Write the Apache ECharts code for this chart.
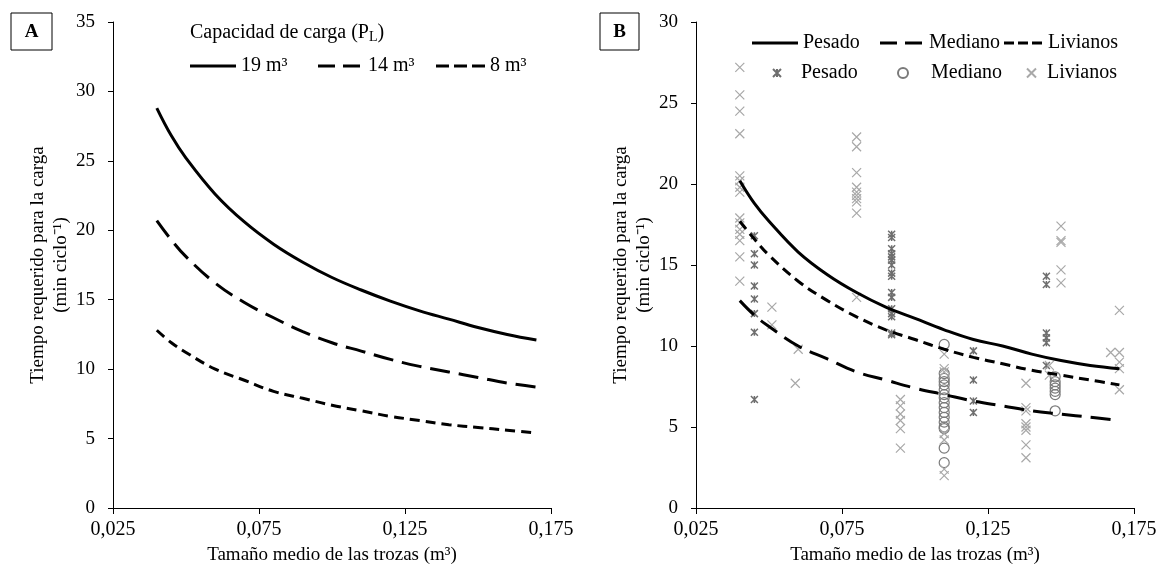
<!DOCTYPE html>
<html>
<head>
<meta charset="utf-8">
<script src="https://cdn.jsdelivr.net/npm/echarts@6/dist/echarts.min.js"></script>
<style>
  html, body { margin: 0; padding: 0; background: #fff; }
  #chart { width: 1169px; height: 573px; }
</style>
</head>
<body>
<div id="chart"></div>
<script>
// Log size (m³) at which each fitted curve is evaluated
const logSize = [0.040, 0.045, 0.050, 0.060, 0.070, 0.080, 0.090, 0.100, 0.110, 0.120, 0.130, 0.140, 0.150, 0.160, 0.170];

// Panel A: loading time by load capacity (min ciclo⁻¹)
const cap19 = [28.8, 26.8, 25.2, 22.6, 20.6, 19.0, 17.7, 16.6, 15.7, 14.9, 14.2, 13.6, 13.0, 12.5, 12.1];
const cap14 = [20.7, 19.3, 18.1, 16.2, 14.8, 13.7, 12.7, 11.9, 11.3, 10.7, 10.2, 9.8, 9.4, 9.0, 8.7];
const cap8  = [12.8, 11.9, 11.2, 10.0, 9.2, 8.4, 7.9, 7.4, 7.0, 6.6, 6.3, 6.0, 5.8, 5.6, 5.4];

// Panel B: fitted curves by truck type
const pesadoFit   = [20.2, 18.8, 17.7, 15.8, 14.4, 13.3, 12.4, 11.7, 11.0, 10.4, 10.0, 9.5, 9.1, 8.8, 8.6];
const livianosFit = [17.7, 16.6, 15.6, 14.0, 12.8, 11.8, 11.0, 10.4, 9.8, 9.3, 8.9, 8.5, 8.2, 7.9, 7.6];
const medianoFit  = [12.8, 11.9, 11.2, 10.0, 9.2, 8.4, 7.9, 7.4, 7.0, 6.6, 6.3, 6.0, 5.8, 5.6, 5.4];

// Panel B: observed cycles [log size, minutes]
const pesadoObs = [
  [0.045, 16.8], [0.045, 15.7], [0.045, 15.0], [0.045, 13.7], [0.045, 12.9], [0.045, 12.0], [0.045, 10.85], [0.045, 6.7],
  [0.092, 16.9], [0.092, 16.7], [0.092, 16.0], [0.092, 15.7], [0.092, 15.5], [0.092, 15.3], [0.092, 15.0], [0.092, 14.5],
  [0.092, 14.3], [0.092, 13.3], [0.092, 13.0], [0.092, 12.3], [0.092, 12.0], [0.092, 11.8], [0.092, 10.8], [0.092, 10.7],
  [0.120, 9.7], [0.120, 7.9], [0.120, 6.6], [0.120, 5.9],
  [0.145, 14.3], [0.145, 13.8], [0.145, 10.8], [0.145, 10.5], [0.145, 10.2], [0.145, 8.8]
];
const medianoObs = [
  [0.110, 10.1], [0.110, 8.3], [0.110, 8.0], [0.110, 7.8], [0.110, 7.6], [0.110, 7.3], [0.110, 7.0], [0.110, 6.8],
  [0.110, 6.5], [0.110, 6.2], [0.110, 5.9], [0.110, 5.6], [0.110, 5.3], [0.110, 5.0], [0.110, 4.9], [0.110, 3.7], [0.110, 2.8],
  [0.148, 8.1], [0.148, 7.8], [0.148, 7.6], [0.148, 7.4], [0.148, 7.2], [0.148, 7.0], [0.148, 6.0]
];
const livianosObs = [
  [0.040, 27.2], [0.040, 25.5], [0.040, 24.5], [0.040, 23.1], [0.040, 20.5], [0.040, 20.2], [0.040, 19.8], [0.040, 19.5],
  [0.040, 17.9], [0.040, 17.6], [0.040, 17.2], [0.040, 16.9], [0.040, 16.5], [0.040, 15.5], [0.040, 14.0],
  [0.051, 12.4], [0.051, 11.3], [0.060, 9.8], [0.059, 7.7],
  [0.080, 22.9], [0.080, 22.3], [0.080, 20.7], [0.080, 19.8], [0.080, 19.5], [0.080, 19.3], [0.080, 19.1], [0.080, 18.9],
  [0.080, 18.2], [0.080, 13.0],
  [0.095, 6.7], [0.095, 6.3], [0.095, 5.8], [0.095, 5.4], [0.095, 4.9], [0.095, 3.7],
  [0.110, 9.5], [0.110, 8.6], [0.110, 8.4], [0.110, 4.6], [0.110, 4.2], [0.110, 2.4], [0.110, 2.0],
  [0.138, 7.7], [0.138, 6.2], [0.138, 6.0], [0.138, 5.2], [0.138, 5.0], [0.138, 4.8], [0.138, 3.9], [0.138, 3.1],
  [0.146, 8.8], [0.146, 8.2],
  [0.150, 17.4], [0.150, 16.5], [0.150, 16.4], [0.150, 14.7], [0.150, 13.9],
  [0.167, 9.6], [0.170, 12.2], [0.170, 9.6], [0.170, 9.0], [0.170, 8.6], [0.170, 7.3]
];

// Axis ticks
const xTicks = [0.025, 0.075, 0.125, 0.175];
const yMaxA = 35, yMaxB = 30, yStep = 5;

const FONT = "'Liberation Serif', 'Times New Roman', serif";
const pair = (xs, ys) => xs.map((x, i) => [x, ys[i]]);

const LONG_DASH = [20, 9];
const SHORT_DASH = [10, 6];
const ASTERISK = 'path://M0,0L10,10M10,0L0,10M5,0L5,10';
const CROSS = 'path://M0,0L10,10M10,0L0,10';

// Legend swatches for the fitted curves (filled bars, 3 px thick)
const SWATCH_SOLID = w => `path://M0,0H${w}V3H0Z`;
const SWATCH_LONG = 'path://M0,0H17V3H0ZM25,0H42V3H25Z';
const SWATCH_SHORT_A = 'path://M0,0H13V3H0ZM18,0H31V3H18ZM36,0H49V3H36Z';
const SWATCH_SHORT_B = 'path://M0,0H10V3H0ZM14,0H24V3H14ZM28,0H38V3H28Z';

function xAxis(gridIndex) {
  return {
    type: 'value', gridIndex, min: 0.025, max: 0.175,
    name: 'Tamaño medio de las trozas (m³)',
    nameLocation: 'middle', nameGap: 38,
    nameTextStyle: { fontFamily: FONT, fontSize: 19, color: '#000' },
    axisLine: { show: true, onZero: false, lineStyle: { color: '#000', width: 1 } },
    axisTick: { show: true, length: 6, customValues: xTicks, lineStyle: { color: '#000' } },
    axisLabel: {
      customValues: xTicks, margin: 12,
      fontFamily: FONT, fontSize: 20, color: '#000',
      formatter: v => v.toFixed(3).replace('.', ',')
    },
    splitLine: { show: false }
  };
}
function yAxis(gridIndex, max) {
  return {
    type: 'value', gridIndex, min: 0, max, interval: yStep,
    name: 'Tiempo requerido para la carga\n(min ciclo⁻¹)',
    nameLocation: 'middle', nameGap: 36, nameRotate: 90,
    nameTextStyle: { fontFamily: FONT, fontSize: 19, color: '#000', lineHeight: 23 },
    axisLine: { show: true, lineStyle: { color: '#000', width: 1 } },
    axisTick: { show: true, length: 5, lineStyle: { color: '#000' } },
    axisLabel: { margin: 18, fontFamily: FONT, fontSize: 19, color: '#000' },
    splitLine: { show: false }
  };
}
function curve(name, xi, data, dash) {
  return {
    type: 'line', name, xAxisIndex: xi, yAxisIndex: xi,
    data, smooth: 0.4, symbol: 'none',
    lineStyle: { color: '#000', width: 3, type: dash || 'solid' },
    itemStyle: { color: '#000' }, z: 3
  };
}
function dots(name, data, symbol, size, color, bw) {
  return {
    type: 'scatter', name, xAxisIndex: 1, yAxisIndex: 1,
    data, symbol, symbolSize: size,
    itemStyle: { color: 'rgba(0,0,0,0)', borderColor: color, borderWidth: bw, opacity: 1 },
    z: 2
  };
}
const stripTag = n => n.replace(' (observado)', '');
function legendItem(name, left, top, iconW, iconH, padLeft, icon) {
  const item = icon ? { name, icon } : { name };
  return {
    data: [item], left, top, orient: 'horizontal', padding: 0,
    itemWidth: iconW, itemHeight: iconH, selectedMode: false,
    formatter: stripTag,
    textStyle: { fontFamily: FONT, fontSize: 20, color: '#000', padding: [0, 0, 0, padLeft || 0] }
  };
}

const chart = echarts.init(document.getElementById('chart'), null, { renderer: 'canvas' });
chart.setOption({
  animation: false,
  backgroundColor: '#fff',
  grid: [
    { left: 113, top: 22, width: 438, height: 486 },
    { left: 696, top: 22, width: 438, height: 486 }
  ],
  xAxis: [xAxis(0), xAxis(1)],
  yAxis: [yAxis(0, yMaxA), yAxis(1, yMaxB)],
  legend: [
    legendItem('19 m³', 190, 56, 46, 3, 0, SWATCH_SOLID(46)),
    legendItem('14 m³', 318, 56, 42, 3, 3, SWATCH_LONG),
    legendItem('8 m³', 436, 56, 49, 3, 0, SWATCH_SHORT_A),
    legendItem('Pesado', 752, 33, 46, 3, 0, SWATCH_SOLID(46)),
    legendItem('Mediano', 880, 33, 42, 3, 2, SWATCH_LONG),
    legendItem('Livianos', 1004, 33, 38, 3, 1, SWATCH_SHORT_B),
    legendItem('Pesado (observado)', 772, 63, 8, 8, 15),
    legendItem('Mediano (observado)', 897, 63, 10, 10, 18),
    legendItem('Livianos (observado)', 1026, 63, 9, 9, 6)
  ],
  graphic: [
    { type: 'rect', shape: { x: 11, y: 13, width: 41, height: 37 }, style: { fill: '#fff', stroke: '#000', lineWidth: 1 } },
    { type: 'text', x: 31.5, y: 32, style: { text: 'A', fontFamily: FONT, fontWeight: 'bold', fontSize: 19, fill: '#000', align: 'center', verticalAlign: 'middle' } },
    { type: 'rect', shape: { x: 600, y: 13, width: 39, height: 37 }, style: { fill: '#fff', stroke: '#000', lineWidth: 1 } },
    { type: 'text', x: 619.5, y: 32, style: { text: 'B', fontFamily: FONT, fontWeight: 'bold', fontSize: 19, fill: '#000', align: 'center', verticalAlign: 'middle' } },
    {
      type: 'text', x: 190, y: 33,
      style: {
        text: 'Capacidad de carga (P{s|L})',
        fontFamily: FONT, fontSize: 20, fill: '#000', verticalAlign: 'middle',
        rich: { s: { fontFamily: FONT, fontSize: 14, fill: '#000', padding: [9, 0, 0, 0] } }
      }
    }
  ],
  series: [
    curve('19 m³', 0, pair(logSize, cap19)),
    curve('14 m³', 0, pair(logSize, cap14), LONG_DASH),
    curve('8 m³', 0, pair(logSize, cap8), SHORT_DASH),
    dots('Pesado (observado)', pesadoObs, ASTERISK, 7, '#6e6e6e', 1.5),
    dots('Mediano (observado)', medianoObs, 'circle', 10, '#7a7a7a', 1.2),
    dots('Livianos (observado)', livianosObs, CROSS, 9, '#a8a8a8', 1.2),
    curve('Pesado', 1, pair(logSize, pesadoFit)),
    curve('Mediano', 1, pair(logSize, medianoFit), LONG_DASH),
    curve('Livianos', 1, pair(logSize, livianosFit), SHORT_DASH)
  ]
});
</script>
</body>
</html>
